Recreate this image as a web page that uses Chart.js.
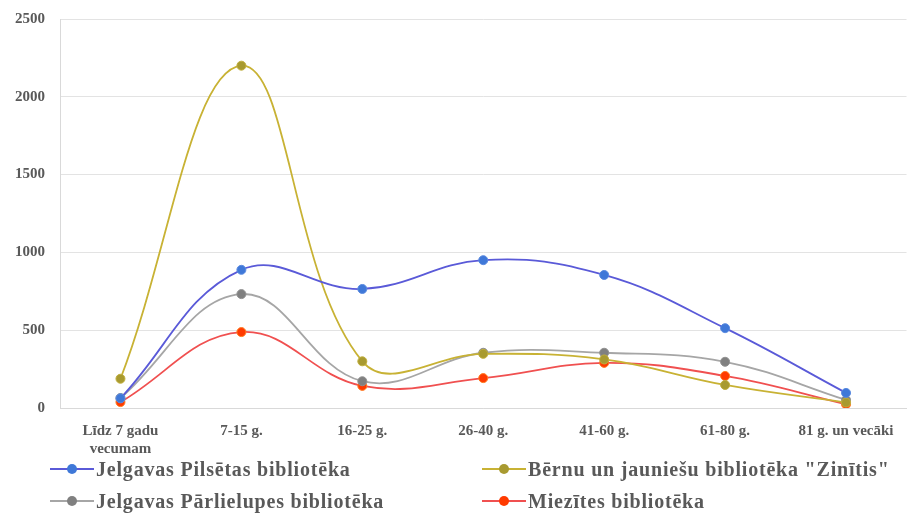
<!DOCTYPE html>
<html>
<head>
<meta charset="utf-8">
<script src="https://cdn.jsdelivr.net/npm/chart.js@4.4.1/dist/chart.umd.min.js"></script>
<style>
    body { margin: 0; background: #fff; }
    #wrap { position: relative; width: 912px; height: 513px; }
    #legend { position: absolute; left: 0; top: 455px; width: 912px; height: 58px;
        font-family: "Liberation Serif", "Times New Roman", serif; font-weight: 700; font-size: 20px;
        letter-spacing: 0.8px; color: #595959; }
    .item { position: absolute; height: 24px; line-height: 24px; white-space: nowrap; }
    .mark { position: relative; display: inline-block; width: 44px; height: 24px; vertical-align: top; margin-right: 2px; }
    .mark .ln { position: absolute; left: 0; right: 0; top: 11px; height: 2px; }
    .mark .dt { position: absolute; left: 17px; top: 7px; width: 10px; height: 10px; border-radius: 50%; }
</style>
</head>
<body>
<div id="wrap">
    <canvas id="lineChart" width="912" height="513"></canvas>
    <div id="legend"></div>
</div>
<script>
let categories = ["Līdz 7 gadu|vecumam", "7-15 g.", "16-25 g.", "26-40 g.", "41-60 g.", "61-80 g.", "81 g. un vecāki"];
let yTicks = [0, 500, 1000, 1500, 2000, 2500];

let pilsetas = [62, 888, 765, 950, 855, 513, 97];
let zinitis = [188, 2200, 300, 348, 312, 148, 35];
let parlielupes = [64, 732, 172, 355, 355, 297, 52];
let miezites = [38, 488, 142, 192, 290, 206, 24];

let names = ["Jelgavas Pilsētas bibliotēka", "Bērnu un jauniešu bibliotēka \"Zinītis\"",
    "Jelgavas Pārlielupes bibliotēka", "Miezītes bibliotēka"];

document.addEventListener("DOMContentLoaded", function () {
    const serif = "'Liberation Serif', 'Times New Roman', serif";

    function ds(label, data, line, dot, edge) {
        return {
            label: label,
            data: data,
            borderColor: line,
            borderWidth: 1.8,
            pointBackgroundColor: dot,
            pointBorderColor: edge,
            pointBorderWidth: 1,
            pointRadius: 4.5,
            tension: 0.4,
            fill: false
        };
    }

    const chart = new Chart(document.getElementById("lineChart").getContext("2d"), {
        type: "line",
        data: {
            labels: categories.map(c => c.split("|")),
            datasets: [
                ds(names[0], pilsetas, "#5a5ad8", "#3f78d8", "#5a8ae0"),
                ds(names[1], zinitis, "#c8b234", "#a89a30", "#c0ae3c"),
                ds(names[2], parlielupes, "#a6a6a6", "#808080", "#909090"),
                ds(names[3], miezites, "#f05050", "#ff3a00", "#ff7a20")
            ]
        },
        options: {
            responsive: false,
            animation: false,
            layout: { padding: { top: 19, right: 0, bottom: 58, left: 0 } },
            plugins: { legend: { display: false }, tooltip: { enabled: false } },
            scales: {
                x: {
                    offset: true,
                    grid: { display: false },
                    border: { color: "#d9d9d9" },
                    ticks: {
                        color: "#595959", padding: 6, maxRotation: 0, autoSkip: false,
                        font: { family: serif, weight: "bold", size: 15, lineHeight: 1.2 }
                    },
                    afterFit: s => { s.height = 47; }
                },
                y: {
                    min: 0, max: 2500,
                    afterBuildTicks: s => { s.ticks = yTicks.map(v => ({ value: v })); },
                    grid: { color: "#e3e3e3", drawTicks: false },
                    border: { color: "#d9d9d9" },
                    ticks: {
                        color: "#595959", padding: 15,
                        font: { family: serif, weight: "bold", size: 15 },
                        callback: v => String(v)
                    },
                    afterFit: s => { s.width = 60; s.paddingTop = 0; s.paddingBottom = 0; }
                }
            }
        }
    });

    const legend = document.getElementById("legend");
    const spots = [[50, 2], [482, 2], [50, 34], [482, 34]];
    chart.data.datasets.forEach((d, i) => {
        const el = document.createElement("div");
        el.className = "item";
        el.style.left = spots[i][0] + "px";
        el.style.top = spots[i][1] + "px";
        el.innerHTML = '<span class="mark"><span class="ln" style="background:' + d.borderColor +
            '"></span><span class="dt" style="background:' + d.pointBackgroundColor + '"></span></span>';
        el.appendChild(document.createTextNode(d.label));
        legend.appendChild(el);
    });
});
</script>
</body>
</html>
